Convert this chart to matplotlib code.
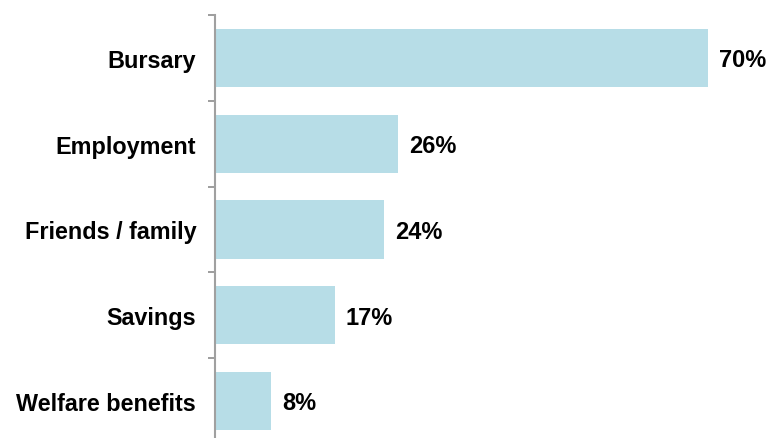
import matplotlib
matplotlib.use("Agg")
import matplotlib.pyplot as plt
import numpy as np

categories = ["Bursary", "Employment", "Friends / family", "Savings", "Welfare benefits"]
values = [70, 26, 24, 17, 8]
value_labels = ["70%", "26%", "24%", "17%", "8%"]

plt.rcParams["font.family"] = ["Liberation Sans", "DejaVu Sans"]

W, H = 770, 439
fig = plt.figure(figsize=(W / 100, H / 100), dpi=100)
left, top, bottom = 215, 16, 445
right = 764
ax = fig.add_axes([left / W, 1 - bottom / H, (right - left) / W, (bottom - top) / H])

y = np.arange(len(categories))
ax.barh(y, values, height=0.676, color="#b7dde7", zorder=2)
ax.set_ylim(len(categories) - 0.5, -0.5)
ax.set_xlim(0, 78)

for yi, v, lab in zip(y, values, value_labels):
    ax.text(v + 1.6, yi + 0.02, lab, va="center", ha="left", fontsize=17,
            fontweight="bold", color="#000000")

ax.set_yticks(y)
ax.set_yticklabels(categories, fontsize=16.8, fontweight="bold", color="#000000")
ax.tick_params(axis="y", which="major", length=0, pad=13.5)
ax.set_yticks(np.arange(-0.5, len(categories) + 0.5, 1), minor=True)
ax.tick_params(axis="y", which="minor", length=5, width=1.2, color="#8c8c8c", direction="out")

ax.set_xticks([])
for s in ["top", "right", "bottom"]:
    ax.spines[s].set_visible(False)
ax.spines["left"].set_color("#a0a0a0")
ax.spines["left"].set_linewidth(1.5)
ax.patch.set_visible(False)

fig.savefig("out.png", dpi=100)
